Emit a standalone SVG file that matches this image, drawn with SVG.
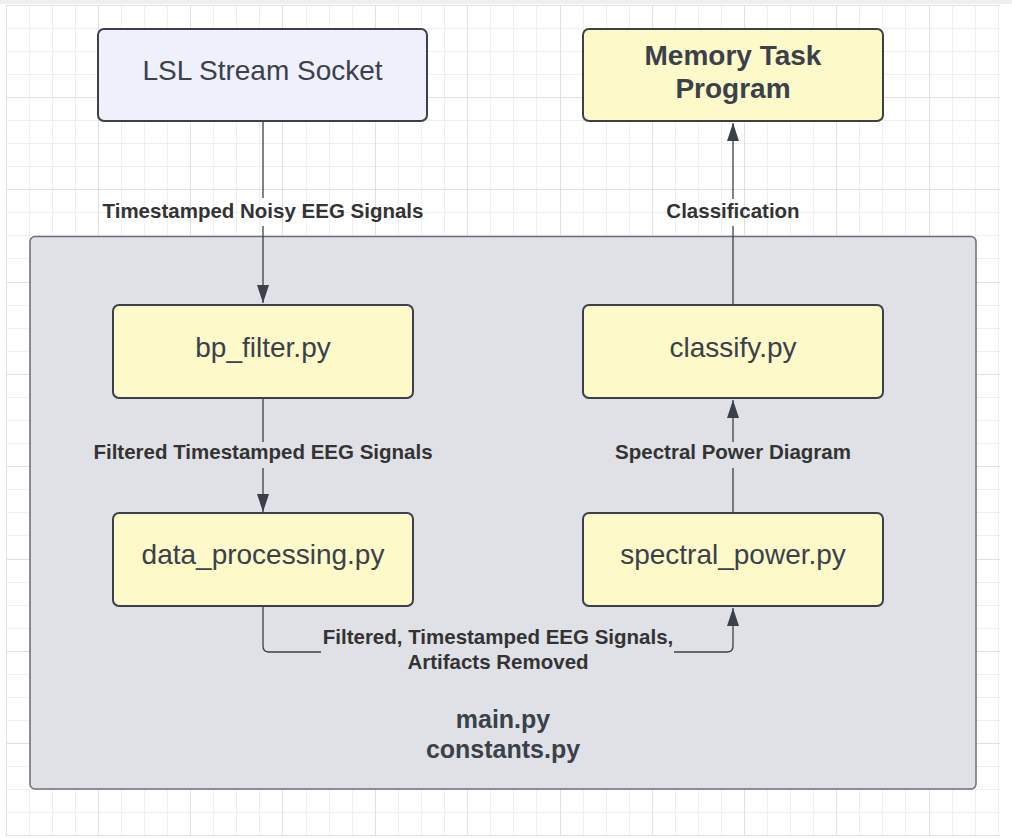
<svg xmlns="http://www.w3.org/2000/svg" width="1012" height="838" viewBox="0 0 1012 838">
<style>
.minor{stroke:#efefef;stroke-width:1;fill:none}
.major{stroke:#e0e0e0;stroke-width:1;fill:none}
.box{stroke:#3a414a;stroke-width:2}
.yellow{fill:#fdf9c9}
.lav{fill:#eff0fc}
.btxt{font-family:"Liberation Sans",Arial,sans-serif;font-size:28px;fill:#3a414a;text-anchor:middle}
.bold{font-weight:bold}
.lbl{font-family:"Liberation Sans",Arial,sans-serif;font-size:20.5px;font-weight:bold;fill:#333333;text-anchor:middle}
.conn{stroke:#3a414a;stroke-width:1.3;fill:none}
</style>
<defs>
<marker id="arr" markerUnits="userSpaceOnUse" markerWidth="18" markerHeight="12" refX="18" refY="6" orient="auto" viewBox="0 0 18 12">
<path d="M0,0 L18,6 L0,12 z" fill="#3a414a"/>
</marker>
</defs>
<rect x="0" y="0" width="1012" height="838" fill="#ffffff"/>
<rect x="0" y="0" width="1012" height="4" fill="#efefef"/>
<g id="grid">
<path class="minor" d="M29.5,5V836M52.5,5V836M75.5,5V836M121.5,5V836M144.5,5V836M167.5,5V836M213.5,5V836M236.5,5V836M259.5,5V836M306.5,5V836M329.5,5V836M352.5,5V836M398.5,5V836M421.5,5V836M444.5,5V836M490.5,5V836M513.5,5V836M536.5,5V836M583.5,5V836M606.5,5V836M629.5,5V836M675.5,5V836M698.5,5V836M721.5,5V836M767.5,5V836M790.5,5V836M813.5,5V836M859.5,5V836M882.5,5V836M905.5,5V836M952.5,5V836M975.5,5V836M998.5,5V836"/>
<path class="minor" d="M6,28.5H1000M6,51.5H1000M6,74.5H1000M6,120.5H1000M6,143.5H1000M6,166.5H1000M6,212.5H1000M6,235.5H1000M6,258.5H1000M6,305.5H1000M6,328.5H1000M6,351.5H1000M6,397.5H1000M6,420.5H1000M6,443.5H1000M6,489.5H1000M6,512.5H1000M6,535.5H1000M6,582.5H1000M6,605.5H1000M6,628.5H1000M6,674.5H1000M6,697.5H1000M6,720.5H1000M6,766.5H1000M6,789.5H1000M6,812.5H1000"/>
<path class="major" d="M6.5,5V836M98.5,5V836M190.5,5V836M282.5,5V836M375.5,5V836M467.5,5V836M560.5,5V836M652.5,5V836M744.5,5V836M836.5,5V836M929.5,5V836"/>
<path class="major" d="M6,5.5H1000M6,97.5H1000M6,189.5H1000M6,282.5H1000M6,374.5H1000M6,466.5H1000M6,559.5H1000M6,651.5H1000M6,743.5H1000M6,835.5H1000"/>
</g>
<g id="container">
<rect x="30" y="236.5" width="946" height="552.5" rx="5" fill="#dfe1e6" stroke="#6a7079" stroke-width="1.5"/>
<text class="btxt bold" x="503" y="728" style="font-size:25px">main.py</text>
<text class="btxt bold" x="503" y="758" style="font-size:25px">constants.py</text>
</g>
<g id="connectors">
<path class="conn" d="M263,122V198"/>
<path class="conn" d="M263,226V303" marker-end="url(#arr)"/>
<path class="conn" d="M263,399V442"/>
<path class="conn" d="M263,468V512" marker-end="url(#arr)"/>
<path class="conn" d="M733,305V226"/>
<path class="conn" d="M733,199V123" marker-end="url(#arr)"/>
<path class="conn" d="M733,513V468"/>
<path class="conn" d="M733,442V400" marker-end="url(#arr)"/>
<path class="conn" d="M263,607V646Q263,652 269,652H321"/>
<path class="conn" d="M674,652H727Q733,652 733,646V608" marker-end="url(#arr)"/>
<text class="lbl" x="263" y="218">Timestamped Noisy EEG Signals</text>
<text class="lbl" x="733" y="218">Classification</text>
<text class="lbl" x="263" y="459">Filtered Timestamped EEG Signals</text>
<text class="lbl" x="733" y="459">Spectral Power Diagram</text>
<text class="lbl" x="498" y="644">Filtered, Timestamped EEG Signals,</text>
<text class="lbl" x="498" y="669">Artifacts Removed</text>
</g>
<g id="lsl">
<rect class="box lav" x="98" y="29" width="329" height="92" rx="6"/>
<text class="btxt" x="262.5" y="80">LSL Stream Socket</text>
</g>
<g id="memory">
<rect class="box yellow" x="583" y="29" width="300" height="92" rx="6"/>
<text class="btxt bold" x="733" y="65">Memory Task</text>
<text class="btxt bold" x="733" y="98">Program</text>
</g>
<g id="bp_filter">
<rect class="box yellow" x="113" y="305" width="300" height="93" rx="6"/>
<text class="btxt" x="263" y="357">bp_filter.py</text>
</g>
<g id="data_processing">
<rect class="box yellow" x="113" y="513" width="300" height="93" rx="6"/>
<text class="btxt" x="263" y="564">data_processing.py</text>
</g>
<g id="classify">
<rect class="box yellow" x="583" y="305" width="300" height="93" rx="6"/>
<text class="btxt" x="733" y="357">classify.py</text>
</g>
<g id="spectral_power">
<rect class="box yellow" x="583" y="513" width="300" height="93" rx="6"/>
<text class="btxt" x="733" y="564">spectral_power.py</text>
</g>
</svg>
